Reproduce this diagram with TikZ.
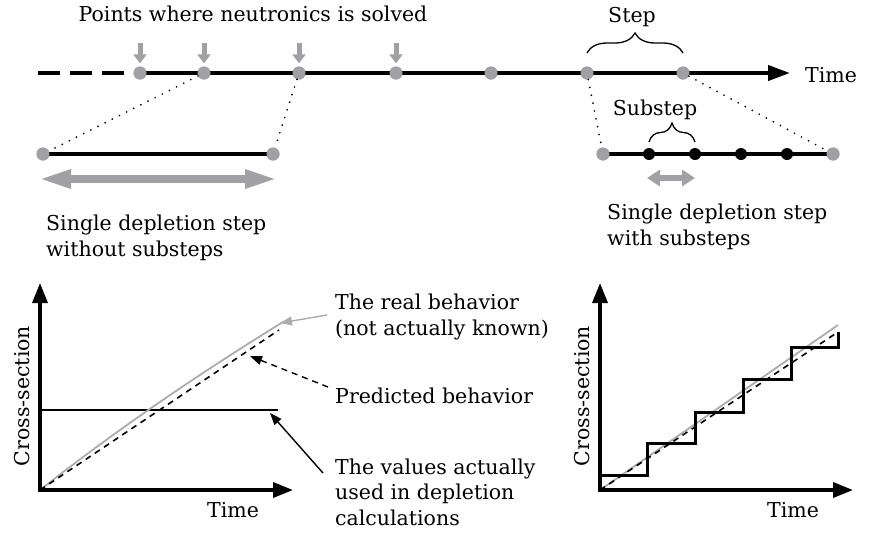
\documentclass[tikz,border=0pt]{standalone}
\usepackage{fontspec}
\setmainfont{DejaVu Serif}
\usetikzlibrary{arrows.meta,decorations.pathreplacing}
\definecolor{dotgray}{RGB}{160,160,165}
\definecolor{curvegray}{RGB}{172,172,172}
\begin{document}
\begin{tikzpicture}[x=1pt,y=-1pt,
  txt/.style={font=\fontsize{20.5}{25.5}\selectfont, inner sep=0pt, align=left},
  gdot/.style={circle,fill=dotgray,minimum size=13pt,inner sep=0pt},
  bdot/.style={circle,fill=black,minimum size=12pt,inner sep=0pt},
  thickline/.style={line width=4pt},
  dotline/.style={line width=1.9pt, line cap=round, dash pattern=on 0pt off 8pt},
  downarrow/.style={dotgray, line width=5pt, -{Triangle[length=9pt,width=13pt]}},
  bigdouble/.style={dotgray, line width=8pt, {Triangle[length=33pt,width=17pt]}-{Triangle[length=33pt,width=17pt]}},
  smalldouble/.style={dotgray, line width=6pt, {Triangle[length=13pt,width=16pt]}-{Triangle[length=13pt,width=16pt]}},
  bracebox/.style={line width=1.3pt, decorate, decoration={brace, amplitude=#1}},
  axis/.style={line width=3.5pt, line join=miter, {Triangle[length=20pt,width=15pt]}-{Triangle[length=20pt,width=15pt]}},
  predicted/.style={line width=1.6pt, dash pattern=on 6pt off 5pt},
  real/.style={curvegray, line width=1.8pt},
  pointer/.style={line width=1.4pt, -{Triangle[length=12pt,width=9pt]}},
]
\useasboundingbox (0,0) rectangle (872,539);

% ---------- top timeline ----------
\coordinate (tstart) at (38,73);
\coordinate (ttip) at (790,73);
\node[gdot] (d1) at (140,73) {};
\node[gdot] (d2) at (204,73) {};
\node[gdot] (d3) at (299,73) {};
\node[gdot] (d4) at (396,73) {};
\node[gdot] (d5) at (491,73) {};
\node[gdot] (d6) at (587,73) {};
\node[gdot] (d7) at (683,73) {};
\draw[thickline, dash pattern=on 22pt off 10pt] (tstart) -- (d1.center);
\draw[thickline, -{Triangle[length=22pt,width=15pt]}] (d1.center) -- (ttip);
\foreach \i in {1,...,7} {\node[gdot] at (d\i) {};}

\node[txt, anchor=base] (lblpts) at (253,21) {Points where neutronics is solved};
\foreach \i/\x in {1/140,2/204,3/299,4/396} {
  \coordinate (a\i) at (\x,43);
  \draw[downarrow, shorten >=3pt] (a\i) -- (d\i);
}
\node[txt, anchor=base west] (timelbl) at (805,82) {Time};

% step brace
\draw[bracebox=20pt] ([yshift=20pt]d6.center) -- ([yshift=20pt]d7.center);
\node[txt, anchor=base] (steplbl) at (632,22) {Step};

% ---------- left detail ----------
\node[gdot] (L1) at (43,154) {};
\node[gdot] (L2) at (273,154) {};
\draw[thickline] (L1.center) -- (L2.center);
\node[gdot] at (L1) {};
\node[gdot] at (L2) {};
\draw[dotline] (d2) -- (L1);
\draw[dotline] (d3) -- (L2);
\coordinate (bl) at (38,179);
\coordinate (br) at (278,179);
\draw[bigdouble] (bl) -- (br);
\node[txt, anchor=base west] (lefttxt) at (46,256) {Single depletion step\\without substeps};

% ---------- right detail ----------
\node[gdot] (R0) at (603,154) {};
\node[gdot] (R5) at (833,154) {};
\draw[thickline] (R0.center) -- (R5.center);
\node[gdot] at (R0) {};
\node[gdot] at (R5) {};
\node[bdot] (R1) at (649,154) {};
\node[bdot] (R2) at (695,154) {};
\node[bdot] (R3) at (741,154) {};
\node[bdot] (R4) at (787,154) {};
\draw[dotline] (d6) -- (R0);
\draw[dotline] (d7) -- (R5);
\draw[bracebox=19pt] ([yshift=12pt]R1.center) -- ([yshift=12pt]R2.center);
\node[txt, anchor=base] (sublbl) at (655,115) {Substep};
\coordinate (sl) at (647,178);
\coordinate (sr) at (695,178);
\draw[smalldouble] (sl) -- (sr);
\node[txt, anchor=base west] (righttxt) at (607,245) {Single depletion step\\with substeps};

% ---------- left plot ----------
\coordinate (O1) at (40,490);
\coordinate (Y1) at (40,283);
\coordinate (X1) at (293,490);
\coordinate (h1) at (40,410);
\coordinate (h2) at (278,410);
\coordinate (p1) at (279,330);
\coordinate (r1) at (283,322);
\draw[line width=2.3pt] (h1) -- (h2);
\draw[real] (O1) .. controls (120,427) and (205,370) .. (r1);
\draw[predicted] (O1) -- (p1);
\draw[axis] (Y1) -- (O1) -- (X1);
\node[txt, anchor=base] (time1) at (233,517) {Time};
\node[txt, rotate=90, anchor=center] (cs1) at (22,396) {Cross-section};

\node[txt, anchor=base west] (realtxt) at (335,335) {The real behavior\\(not actually known)};
\node[txt, anchor=base west] (predtxt) at (335,403) {Predicted behavior};
\node[txt, anchor=base west] (usedtxt) at (335,525) {The values actually\\used in depletion\\calculations};
\coordinate (s1) at (327,315);
\coordinate (e1) at (280,323);
\coordinate (s2) at (328,387);
\coordinate (e2) at (250,356);
\coordinate (s3) at (323,473);
\coordinate (e3) at (270,413);
\draw[pointer, curvegray] (s1) -- (e1);
\draw[pointer, dash pattern=on 6pt off 5pt] (s2) -- (e2);
\draw[pointer] (s3) -- (e3);

% ---------- right plot ----------
\coordinate (O2) at (600,490);
\coordinate (Y2) at (600,283);
\coordinate (X2) at (853,490);
\coordinate (q0) at (600,475);
\coordinate (q1) at (647,443);
\coordinate (q2) at (695,412);
\coordinate (q3) at (743,379);
\coordinate (q4) at (791,347);
\coordinate (q5) at (838,332);
\coordinate (r2) at (838,325);
\draw[real] (O2) -- (r2);
\draw[predicted] (O2) -- (q5);
\draw[line width=3pt, line join=miter] (q0) -| (q1) -| (q2) -| (q3) -| (q4) -| (q5);
\draw[axis] (Y2) -- (O2) -- (X2);
\node[txt, anchor=base] (time2) at (793,517) {Time};
\node[txt, rotate=90, anchor=center] (cs2) at (582,396) {Cross-section};
\end{tikzpicture}
\end{document}
